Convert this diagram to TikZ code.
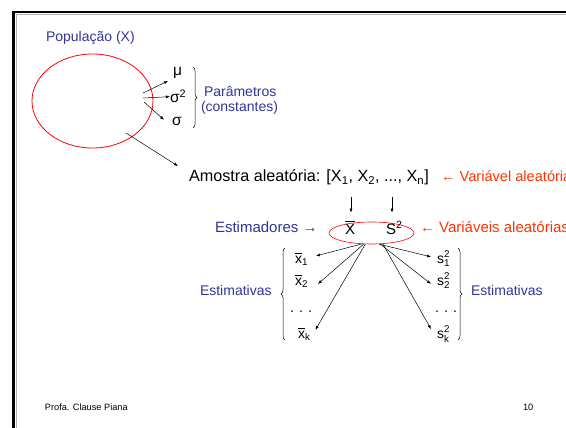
\documentclass[tikz,border=0pt]{standalone}
\usepackage{amsmath}
\usepackage{fontspec}
\setmainfont{Liberation Sans}
\usetikzlibrary{arrows.meta,shapes.geometric,decorations.pathreplacing}
\definecolor{txtblue}{RGB}{51,51,153}
\definecolor{txtred}{RGB}{255,51,0}
\begin{document}
\begin{tikzpicture}[x=1pt,y=-1pt,
  txt/.style={inner sep=0pt,outer sep=0pt,anchor=base west,font=\fontsize{14}{16.8}\selectfont},
  bluetxt/.style={txt,text=txtblue},
  redtxt/.style={txt,text=txtred,font=\fontsize{15}{18}\selectfont},
  greek/.style={txt,font=\fontsize{15.5}{18}\selectfont},
  foot/.style={txt,font=\fontsize{9.2}{11}\selectfont},
  oval/.style={draw=red,ellipse,inner sep=0pt,line width=0.8pt},
  arr/.style={-{Latex[length=4pt,width=3pt]},line width=0.5pt},
  brc/.style={decorate,decoration={brace,amplitude=4pt},line width=0.5pt}]
\useasboundingbox (0,0) rectangle (566,428);
\draw[gray!60,line width=1pt] (16,440) -- (16,14.5) -- (580,14.5);
\draw[line width=2.5pt] (13.5,440) -- (13.5,12) -- (580,12);
\node[bluetxt] (pop) at (46,42) {População (X)};
\node[oval,minimum width=121pt,minimum height=94pt] (popoval) at (92.5,101) {};
\node[greek] (mu) at (173,76) {μ};
\node[greek] (sig2) at (170,103) {σ\textsuperscript{2}};
\node[greek] (sig) at (172,126) {σ};
\coordinate (p1) at (143,93);
\coordinate (p2) at (143,98);
\coordinate (p3) at (144,102);
\coordinate (p4) at (126,133);
\draw[arr] (p1) -- ([shift={(-5,2)}]mu.south west);
\draw[arr] (p2) -- (sig2.west);
\draw[arr] (p3) -- ([shift={(-8,2)}]sig.north west);
\draw[brc] (193,67) -- (193,128);
\node[bluetxt] (param) at (204,97) {Parâmetros};
\node[bluetxt] (const) at (201,112) {(constantes)};
\node[txt,font=\fontsize{16.2}{19.4}\selectfont] (amostra) at (189,182) {Amostra aleatória: [X\textsubscript{1}, X\textsubscript{2}, ..., X\textsubscript{n}]};
\draw[arr] (p4) -- ([shift={(-11,-4)}]amostra.north west);
\node[redtxt,font=\fontsize{14.6}{17.5}\selectfont] (varal) at (441,182) {← Variável aleatória};
\node[oval,line width=0.6pt,minimum width=85pt,minimum height=22pt] (est) at (371.5,233) {};
\node[txt,font=\fontsize{15}{18}\selectfont] (xbar) at (345,234) {$\overline{\text{X}}$};
\node[txt,font=\fontsize{15}{18}\selectfont] (ssq) at (386,234) {S\textsuperscript{2}};
\coordinate (d1) at (351,197);
\coordinate (d2) at (392,197);
\draw[arr] (d1) -- ([yshift=9pt]d1 |- est.north);
\draw[arr] (d2) -- ([yshift=9pt]d2 |- est.north);
\node[bluetxt,font=\fontsize{15}{18}\selectfont] (estim) at (215,233) {Estimadores →};
\node[redtxt] (varals) at (420,233) {← Variáveis aleatórias};
\node[txt] (x1) at (295,263) {$\overline{\text{x}}_{\text{1}}$};
\node[txt] (x2) at (295,285) {$\overline{\text{x}}_{\text{2}}$};
\node[txt] (xd) at (290,312) {. . .};
\node[txt] (xk) at (298,338) {$\overline{\text{x}}_{\text{k}}$};
\node[txt] (s1) at (437,263) {$\text{s}^{\text{2}}_{\text{1}}$};
\node[txt] (s2) at (437,285) {$\text{s}^{\text{2}}_{\text{2}}$};
\node[txt] (sd) at (435,312) {. . .};
\node[txt] (sk) at (437,338) {$\text{s}^{\text{2}}_{\text{k}}$};
\draw[arr] (est.-132) -- ([shift={(8,-3)}]x1.east);
\draw[arr] (est.-125) -- ([shift={(10,3)}]x2.east);
\draw[arr] (est.-119) -- ([shift={(5,-4)}]xk.east);
\draw[arr] (est.-56) -- ([shift={(-6,-2)}]s1.west);
\draw[arr] (est.-52) -- ([shift={(-6,3)}]s2.west);
\draw[arr] (est.-44) -- ([shift={(-6,-5)}]sk.west);
\draw[brc] (285,340) -- (285,248);
\draw[brc] (458,248) -- (458,340);
\node[bluetxt] (estl) at (200,295) {Estimativas};
\node[bluetxt] (estr) at (471,295) {Estimativas};
\node[foot] (autor) at (45,410) {Profa. Clause Piana};
\node[foot] (pag) at (523,410) {10};
\end{tikzpicture}
\end{document}
